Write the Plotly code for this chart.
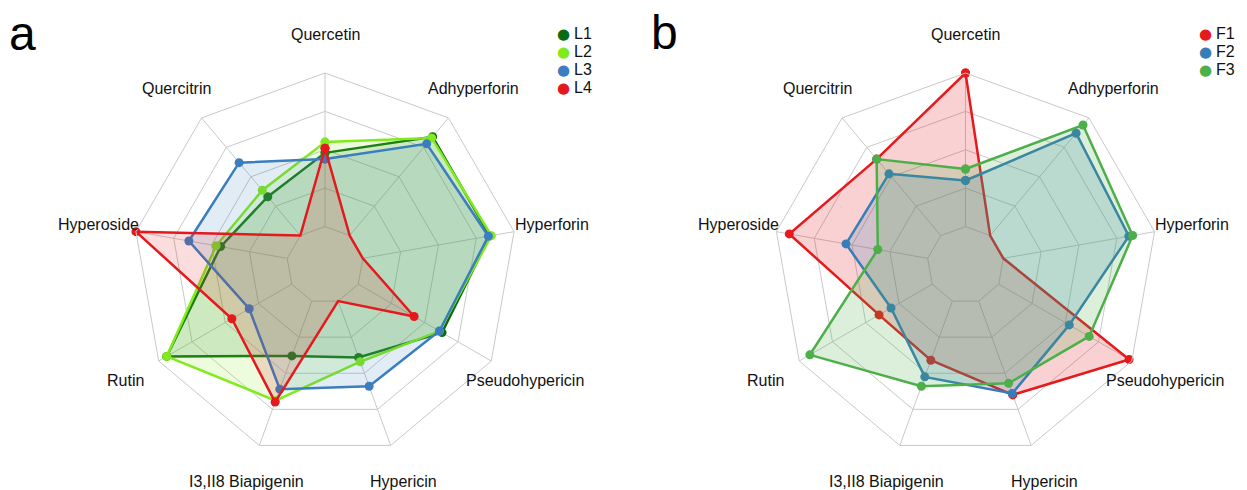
import math
import plotly.graph_objects as go

# Compounds, clockwise from the top
compounds = ["Quercetin", "Adhyperforin", "Hyperforin", "Pseudohypericin", "Hypericin",
             "I3,II8 Biapigenin", "Rutin", "Hyperoside", "Quercitrin"]

# Panel a: relative content (scaled 0-1) in plant parts L1-L4
L1 = [0.48, 0.84, 0.84, 0.63, 0.39, 0.38, 0.94, 0.44, 0.33]
L2 = [0.55, 0.83, 0.85, 0.61, 0.42, 0.69, 0.94, 0.47, 0.385]
L3 = [0.44, 0.78, 0.83, 0.61, 0.59, 0.61, 0.32, 0.65, 0.62]
L4 = [0.51, 0.00, 0.00, 0.42, 0.00, 0.70, 0.45, 1.00, 0.00]

# Panel b: relative content (scaled 0-1) in fractions F1-F3
F1 = [1.00, 0.00, 0.00, 0.98, 0.65, 0.41, 0.40, 0.915, 0.65]
F2 = [0.30, 0.87, 0.83, 0.53, 0.64, 0.525, 0.31, 0.54, 0.525]
F3 = [0.375, 0.94, 0.855, 0.68, 0.57, 0.59, 0.92, 0.33, 0.65]

series_a = [("L1", L1, "#0b6b12"), ("L2", L2, "#80ea1c"), ("L3", L3, "#3a7ebf"), ("L4", L4, "#e4191e")]
series_b = [("F1", F1, "#e41a1c"), ("F2", F2, "#377eb8"), ("F3", F3, "#4daf4a")]

W, H = 1247, 490
RAD = 192
CENTERS = {"polar": (325, 265), "polar2": (965.5, 265)}
GRID = "#c9c9c9"
FONT = "Liberation Sans, Arial, sans-serif"


def rgba(hex_color, a):
    h = hex_color.lstrip("#")
    r, g, b = int(h[0:2], 16), int(h[2:4], 16), int(h[4:6], 16)
    return f"rgba({r},{g},{b},{a})"


fig = go.Figure()

# spokes start at the innermost ring (value 0), as in a radar chart with an offset centre
for sub in ("polar", "polar2"):
    for c in compounds:
        fig.add_trace(go.Scatterpolar(
            r=[0, 1], theta=[c, c], mode="lines",
            line=dict(color=GRID, width=1), hoverinfo="skip",
            showlegend=False, subplot=sub))


def add_series(series, sub, alpha):
    for name, vals, col in series:
        fig.add_trace(go.Scatterpolar(
            r=vals + vals[:1], theta=compounds + compounds[:1],
            mode="lines+markers", fill="toself", fillcolor=rgba(col, alpha),
            line=dict(color=col, width=2.5), marker=dict(color=col, size=9),
            name=name, showlegend=False, subplot=sub))


add_series(series_a, "polar", 0.15)
add_series(series_b, "polar2", 0.2)


def polar_layout(cx, cy):
    return dict(
        domain=dict(x=[(cx - RAD) / W, (cx + RAD) / W],
                    y=[1 - (cy + RAD) / H, 1 - (cy - RAD) / H]),
        gridshape="linear",
        bgcolor="rgba(0,0,0,0)",
        radialaxis=dict(range=[-0.25, 1], tickvals=[0, 0.25, 0.5, 0.75, 1],
                        showticklabels=False, ticks="", showline=False,
                        gridcolor=GRID, gridwidth=1),
        angularaxis=dict(categoryorder="array", categoryarray=compounds,
                         rotation=90, direction="clockwise",
                         showticklabels=False, ticks="", showgrid=False,
                         showline=True, linecolor=GRID, linewidth=1),
    )


annotations = []


def text_at(text, x, y, size, xanchor="center", color="#111111", family=FONT):
    annotations.append(dict(
        text=text, x=x / W, y=1 - y / H, xref="paper", yref="paper",
        xanchor=xanchor, yanchor="middle", showarrow=False,
        font=dict(family=family, size=size, color=color)))


# compound names around each radar
for sub, (cx, cy) in CENTERS.items():
    n = len(compounds)
    for i, c in enumerate(compounds):
        ang = 2 * math.pi * i / n
        text_at(c, cx + 1.2 * RAD * math.sin(ang), cy - 1.2 * RAD * math.cos(ang), 16)

# panel letters
text_at("a", 22, 34, 48, color="#000000")
text_at("b", 664, 32, 48, color="#000000")

# dot legends
for series, dot_x in ((series_a, 563), (series_b, 1205)):
    for k, (name, _, col) in enumerate(series):
        y = 34 + 18 * k
        text_at("\u25CF", dot_x, y, 15, color=col, family="DejaVu Sans")
        text_at(name, dot_x + 9, y, 16, xanchor="left")

fig.update_layout(
    width=W, height=H,
    margin=dict(l=0, r=0, t=0, b=0),
    paper_bgcolor="white", plot_bgcolor="white",
    showlegend=False,
    polar=polar_layout(*CENTERS["polar"]),
    polar2=polar_layout(*CENTERS["polar2"]),
    annotations=annotations,
)

fig.write_html("out.html")
